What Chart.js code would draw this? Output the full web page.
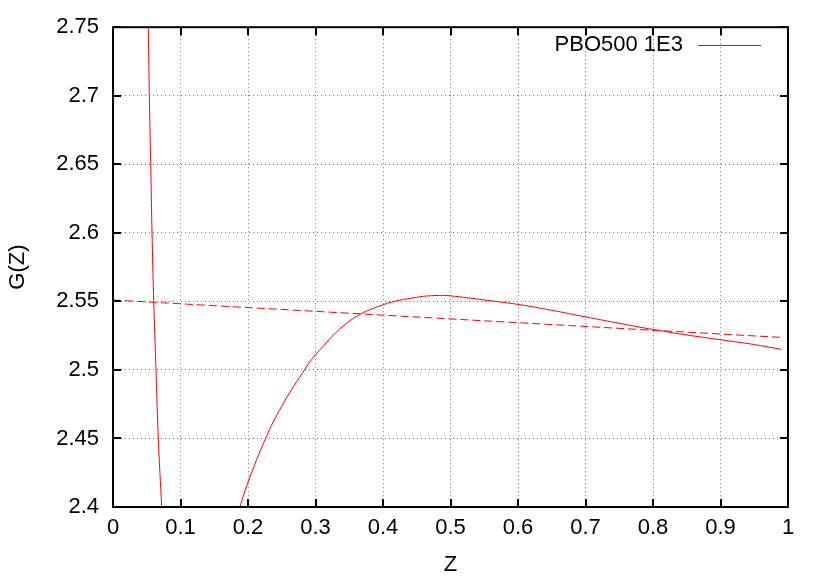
<!DOCTYPE html>
<html>
<head>
<meta charset="utf-8">
<script src="https://cdn.jsdelivr.net/npm/chart.js@4"></script>
<style>
  html, body { margin: 0; padding: 0; background: #fff; }
  #wrap { width: 830px; height: 581px; }
</style>
</head>
<body>
<div id="wrap"><canvas id="c" width="830" height="581"></canvas></div>
<script>
const xTicks = [0, 0.1, 0.2, 0.3, 0.4, 0.5, 0.6, 0.7, 0.8, 0.9, 1];
const yTicks = [2.4, 2.45, 2.5, 2.55, 2.6, 2.65, 2.7, 2.75];
const yTickLabels = ["2.4", "2.45", "2.5", "2.55", "2.6", "2.65", "2.7", "2.75"];

// steep branch near Z = 0.05
const branchAZ = [0.0523, 0.0538, 0.0559, 0.0578, 0.0603, 0.0637, 0.0671, 0.0721];
const branchAG = [2.75, 2.70, 2.65, 2.60, 2.55, 2.50, 2.45, 2.40];

// main branch
const branchBZ = [0.188, 0.2, 0.226, 0.25, 0.281, 0.3, 0.35, 0.4, 0.45, 0.48, 0.5, 0.55, 0.6, 0.65, 0.7, 0.75, 0.8, 0.85, 0.9, 0.95, 0.99];
const branchBG = [2.40, 2.418, 2.45, 2.4736, 2.498, 2.511, 2.5355, 2.5475, 2.553, 2.5543, 2.554, 2.551, 2.5478, 2.5435, 2.5387, 2.534, 2.5295, 2.5255, 2.522, 2.5185, 2.515];

// dashed reference line
const fitZ = [0, 0.99];
const fitG = [2.551, 2.5237];

const seriesLabel = "PBO500 1E3";

const toPts = (xs, ys) => xs.map((x, i) => ({ x: x, y: ys[i] }));

const FONT = "Liberation Sans, Arial, Helvetica, sans-serif";
const FSIZE = 22;

const framePlugin = {
  id: "frame",
  afterDraw(chart) {
    const { ctx, chartArea: a, scales } = chart;
    ctx.save();
    ctx.strokeStyle = "#000";
    ctx.lineWidth = 2;
    ctx.strokeRect(a.left, a.top, a.right - a.left, a.bottom - a.top);
    ctx.beginPath();
    xTicks.forEach(v => {
      const px = Math.round(scales.x.getPixelForValue(v));
      ctx.moveTo(px, a.bottom); ctx.lineTo(px, a.bottom - 8);
      ctx.moveTo(px, a.top); ctx.lineTo(px, a.top + 8);
    });
    yTicks.forEach(v => {
      const py = Math.round(scales.y.getPixelForValue(v));
      ctx.moveTo(a.left, py); ctx.lineTo(a.left + 8, py);
      ctx.moveTo(a.right, py); ctx.lineTo(a.right - 8, py);
    });
    ctx.stroke();

    // axis titles
    ctx.fillStyle = "#000";
    ctx.font = FSIZE + "px " + FONT;
    ctx.textAlign = "center";
    ctx.textBaseline = "middle";
    ctx.fillText("Z", (a.left + a.right) / 2, 565);
    ctx.save();
    ctx.translate(18, (a.top + a.bottom) / 2);
    ctx.rotate(-Math.PI / 2);
    ctx.fillText("G(Z)", 0, 0);
    ctx.restore();

    // key
    ctx.textAlign = "right";
    ctx.fillText(seriesLabel, 683, 45);
    ctx.strokeStyle = "#ff0000";
    ctx.lineWidth = 1;
    ctx.beginPath();
    ctx.moveTo(698, 45.5);
    ctx.lineTo(761, 45.5);
    ctx.stroke();
    ctx.restore();
  }
};

new Chart(document.getElementById("c").getContext("2d"), {
  type: "scatter",
  data: {
    datasets: [
      {
        label: seriesLabel,
        data: toPts(branchAZ, branchAG),
        showLine: true,
        borderColor: "#ff0000",
        borderWidth: 1,
        pointRadius: 0,
        tension: 0.3
      },
      {
        label: seriesLabel,
        data: toPts(branchBZ, branchBG),
        showLine: true,
        borderColor: "#ff0000",
        borderWidth: 1,
        pointRadius: 0,
        tension: 0.4
      },
      {
        label: "fit",
        data: toPts(fitZ, fitG),
        showLine: true,
        borderColor: "#ff0000",
        borderWidth: 1,
        borderDash: [8, 4],
        pointRadius: 0
      }
    ]
  },
  options: {
    responsive: false,
    animation: false,
    events: [],
    clip: true,
    layout: { padding: { top: 27, right: 42, left: 0, bottom: 0 } },
    scales: {
      x: {
        type: "linear",
        min: 0,
        max: 1,
        afterBuildTicks: s => { s.ticks = xTicks.map(v => ({ value: v })); },
        afterFit: s => { s.height = 74; },
        ticks: {
          font: { family: FONT, size: FSIZE },
          color: "#000",
          padding: 8,
          maxRotation: 0,
          callback: v => String(v)
        },
        grid: {
          color: "rgba(0,0,0,0.55)",
          lineWidth: 1,
          drawTicks: false
        },
        border: { display: false, dash: [1, 3] }
      },
      y: {
        type: "linear",
        min: 2.4,
        max: 2.75,
        afterBuildTicks: s => { s.ticks = yTicks.map(v => ({ value: v })); },
        afterFit: s => { s.width = 113; },
        ticks: {
          font: { family: FONT, size: FSIZE },
          color: "#000",
          padding: 14,
          callback: (v, i) => yTickLabels[i]
        },
        grid: {
          color: "rgba(0,0,0,0.55)",
          lineWidth: 1,
          drawTicks: false
        },
        border: { display: false, dash: [1, 3] }
      }
    },
    plugins: {
      legend: { display: false },
      tooltip: { enabled: false }
    }
  },
  plugins: [framePlugin]
});
</script>
</body>
</html>
